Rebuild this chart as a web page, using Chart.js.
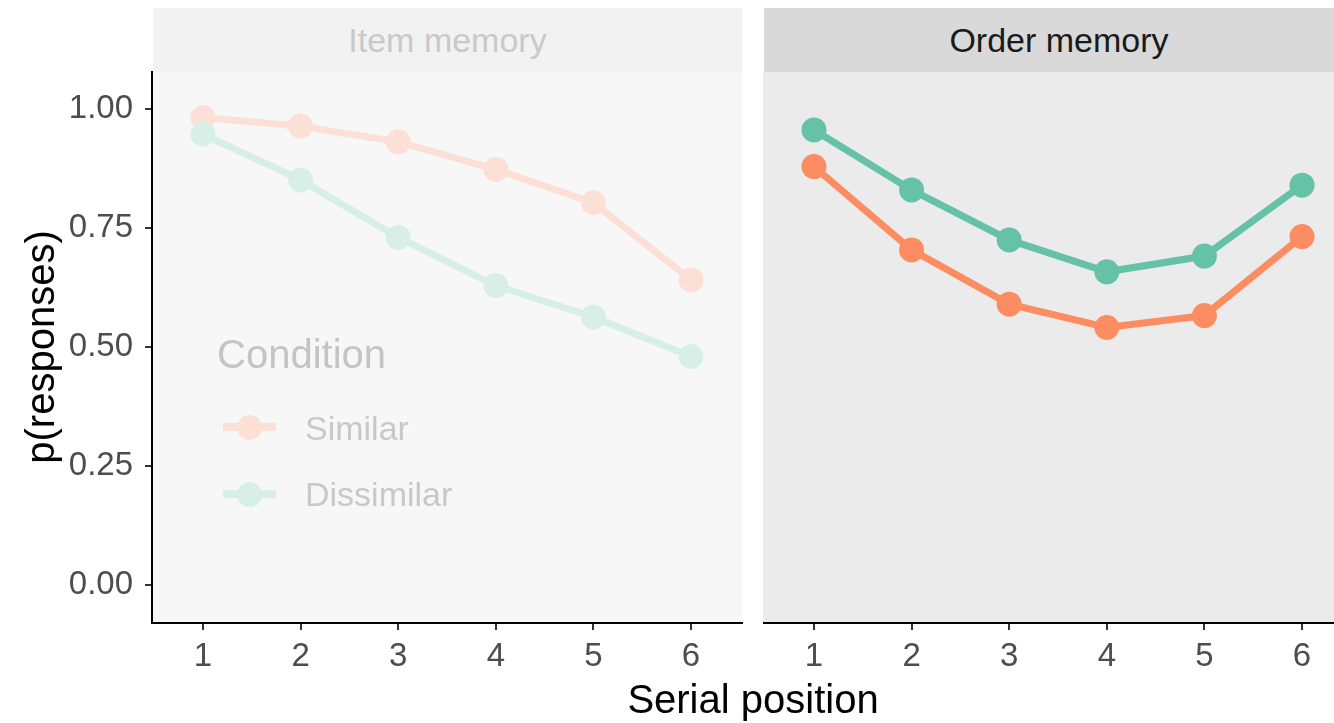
<!DOCTYPE html>
<html><head><meta charset="utf-8">
<script src="https://cdn.jsdelivr.net/npm/chart.js@4.4.1/dist/chart.umd.min.js"></script>
<style>
html,body{margin:0;padding:0;width:1334px;height:723px;overflow:hidden;background:#fff;font-family:"Liberation Sans",Arial,Helvetica,sans-serif;}
.abs{position:absolute;white-space:nowrap;}
.strip{top:8px;height:64px;width:590px;line-height:64px;text-align:center;font-size:34px;}
.key{position:absolute;width:53px;height:8px;}
.dot{position:absolute;width:25px;height:25px;border-radius:50%;}
</style></head><body>
<div class="abs strip" style="left:153px;width:589px;background:#f2f2f2;color:#c9c9c9;">Item memory</div>
<div class="abs strip" style="left:764px;background:#d9d9d9;color:#1a1a1a;">Order memory</div>
<canvas id="c1" class="abs" style="left:0;top:0;" width="745" height="723"></canvas>
<canvas id="c2" class="abs" style="left:763px;top:0;" width="600" height="723"></canvas>

<div class="abs" style="left:217px;top:331px;font-size:40px;line-height:46px;color:#c4c4c4;">Condition</div>
<div class="key" style="left:223px;top:423px;background:#fce0d5;"></div>
<div class="dot" style="left:237px;top:415px;background:#fce0d5;"></div>
<div class="abs" style="left:305px;top:408px;font-size:34px;line-height:40px;color:#c8c8c8;">Similar</div>
<div class="key" style="left:223px;top:490px;background:#d7efe7;"></div>
<div class="dot" style="left:237px;top:482px;background:#d7efe7;"></div>
<div class="abs" style="left:305px;top:474px;font-size:34px;line-height:40px;color:#c8c8c8;">Dissimilar</div>

<div class="abs" style="left:-160px;top:325px;width:400px;text-align:center;font-size:40px;line-height:44px;color:#000;transform:rotate(-90deg);">p(responses)</div>
<div class="abs" style="left:553px;top:676px;width:400px;text-align:center;font-size:40px;line-height:46px;color:#000;">Serial position</div>

<script>
const positions = [1, 2, 3, 4, 5, 6];
const yTicks = [0, 0.25, 0.5, 0.75, 1];
const itemSimilar = [0.982, 0.964, 0.931, 0.873, 0.803, 0.641];
const itemDissimilar = [0.947, 0.851, 0.730, 0.629, 0.563, 0.480];
const orderSimilar = [0.879, 0.704, 0.590, 0.541, 0.566, 0.732];
const orderDissimilar = [0.956, 0.830, 0.725, 0.658, 0.691, 0.840];

const FONT = '"Liberation Sans", Arial, Helvetica, sans-serif';
const toXY = arr => arr.map((v, i) => ({x: positions[i], y: v}));

const panelBg = {
  id: 'panelBg',
  beforeDraw(chart, args, opts) {
    const a = chart.chartArea, ctx = chart.ctx;
    ctx.save();
    ctx.fillStyle = opts.color;
    ctx.fillRect(a.left, a.top, a.right - a.left, a.bottom - a.top);
    ctx.restore();
  }
};

function ds(label, data, color, order) {
  return {
    label, data: toXY(data), borderColor: color, backgroundColor: color,
    pointBackgroundColor: color, pointBorderWidth: 0, pointRadius: 12.5,
    pointHoverRadius: 12.5, borderWidth: 7, tension: 0, order
  };
}

function makeOptions(showY, bg, padRight) {
  return {
    responsive: false, animation: false, events: [],
    layout: {autoPadding: false, padding: {left: 0, top: 72, right: padRight, bottom: 0}},
    plugins: {legend: {display: false}, tooltip: {enabled: false}, panelBg: {color: bg}},
    scales: {
      x: {
        type: 'linear', min: 0.478, max: 6.522,
        afterBuildTicks: s => { s.ticks = positions.map(v => ({value: v})); },
        afterFit: s => { s.height = 100; },
        grid: {drawOnChartArea: false, drawTicks: true, tickLength: 7, color: '#333333', lineWidth: 2},
        border: {display: true, color: '#000000', width: 2},
        ticks: {font: {family: FONT, size: 33}, color: '#4d4d4d', padding: 7, maxRotation: 0,
                callback: v => String(v)}
      },
      y: {
        display: showY, min: -0.0798, max: 1.0777,
        afterBuildTicks: s => { s.ticks = yTicks.map(v => ({value: v})); },
        afterFit: s => { s.width = showY ? 152 : 0; },
        grid: {drawOnChartArea: false, drawTicks: showY, tickLength: 7, color: '#333333', lineWidth: 2},
        border: {display: showY, color: '#000000', width: 2},
        ticks: {display: showY, font: {family: FONT, size: 33}, color: '#4d4d4d', padding: 12,
                callback: v => Number(v).toFixed(2)}
      }
    }
  };
}

new Chart(document.getElementById('c1'), {
  type: 'line',
  data: {datasets: [
    ds('Similar', itemSimilar, '#fce0d5', 2),
    ds('Dissimilar', itemDissimilar, '#d7efe7', 1)
  ]},
  options: makeOptions(true, '#f7f7f7', 3),
  plugins: [panelBg]
});

new Chart(document.getElementById('c2'), {
  type: 'line',
  data: {datasets: [
    ds('Similar', orderSimilar, '#fc8d62', 2),
    ds('Dissimilar', orderDissimilar, '#66c2a5', 1)
  ]},
  options: makeOptions(false, '#ebebeb', 10),
  plugins: [panelBg]
});
</script>
</body></html>
